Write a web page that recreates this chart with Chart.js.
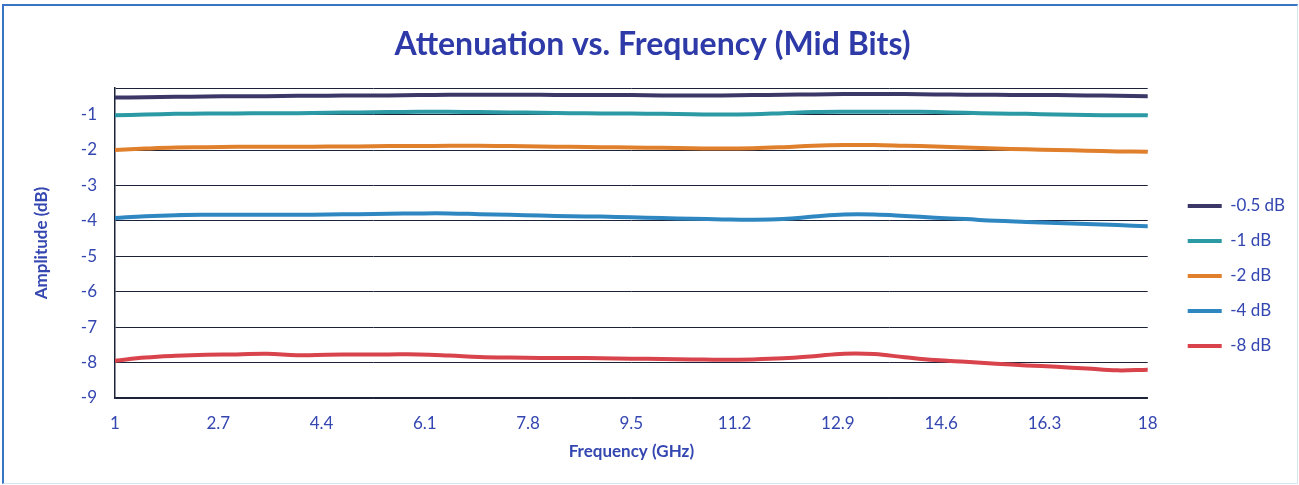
<!DOCTYPE html>
<html>
<head>
<meta charset="utf-8">
<script src="https://cdn.jsdelivr.net/npm/chart.js@4/dist/chart.umd.min.js"></script>
<style>
  html, body { margin: 0; padding: 0; background: #ffffff; }
  #wrap { position: relative; width: 1299px; height: 485px; overflow: hidden; }
  #frame { position: absolute; left: 2px; top: 4px; width: 1296px; height: 480px;
           border-top: 2px solid #3a74c6; border-left: 2px solid #3a74c6;
           border-right: 1px solid #d3e6f4; border-bottom: 1px solid #d3e6f4;
           box-sizing: border-box; pointer-events: none; }
  canvas { position: absolute; left: 0; top: 0; }
</style>
</head>
<body>
<div id="wrap">
  <canvas id="c" width="1299" height="485"></canvas>
  <div id="frame"></div>
</div>
<script>
// ---- data ----
const freqs = [1,1.5,2,2.5,3,3.5,4,4.5,5,5.5,6,6.5,7,7.5,8,8.5,9,9.5,10,10.5,11,11.5,12,12.5,13,13.5,14,14.5,15,15.5,16,16.5,17,17.5,18];
const seriesNames = ['-0.5 dB', '-1 dB', '-2 dB', '-4 dB', '-8 dB'];
const att05 = [-0.52,-0.51,-0.50,-0.49,-0.48,-0.48,-0.47,-0.47,-0.46,-0.46,-0.45,-0.44,-0.44,-0.44,-0.44,-0.45,-0.45,-0.45,-0.46,-0.46,-0.46,-0.45,-0.44,-0.43,-0.42,-0.42,-0.42,-0.43,-0.44,-0.44,-0.45,-0.45,-0.46,-0.47,-0.48];
const att1  = [-1.02,-1.00,-0.98,-0.97,-0.97,-0.96,-0.96,-0.95,-0.94,-0.93,-0.92,-0.92,-0.93,-0.94,-0.95,-0.96,-0.97,-0.97,-0.98,-0.99,-1.00,-0.99,-0.96,-0.93,-0.92,-0.92,-0.92,-0.93,-0.95,-0.97,-0.98,-1.00,-1.01,-1.02,-1.02];
const att2  = [-2.00,-1.96,-1.93,-1.92,-1.91,-1.91,-1.91,-1.90,-1.90,-1.89,-1.89,-1.88,-1.88,-1.89,-1.90,-1.91,-1.92,-1.93,-1.94,-1.95,-1.96,-1.95,-1.92,-1.88,-1.86,-1.86,-1.88,-1.90,-1.93,-1.96,-1.98,-2.00,-2.02,-2.04,-2.05];
const att4  = [-3.92,-3.87,-3.84,-3.83,-3.83,-3.83,-3.83,-3.82,-3.81,-3.80,-3.79,-3.79,-3.81,-3.83,-3.85,-3.87,-3.88,-3.90,-3.92,-3.94,-3.96,-3.97,-3.95,-3.88,-3.82,-3.82,-3.86,-3.91,-3.95,-4.00,-4.03,-4.06,-4.09,-4.12,-4.15];
const att8  = [-7.95,-7.86,-7.81,-7.78,-7.77,-7.75,-7.79,-7.78,-7.77,-7.77,-7.77,-7.80,-7.84,-7.86,-7.87,-7.87,-7.88,-7.89,-7.90,-7.91,-7.92,-7.91,-7.88,-7.82,-7.75,-7.76,-7.85,-7.93,-7.98,-8.03,-8.08,-8.12,-8.17,-8.22,-8.20];
const xTicks = [1, 2.7, 4.4, 6.1, 7.8, 9.5, 11.2, 12.9, 14.6, 16.3, 18];
const yTicks = [-9, -8, -7, -6, -5, -4, -3, -2, -1];
const yTop = -0.25;

const colors = ['#3b3868', '#2b9aa4', '#e07f2c', '#2f87c2', '#d8434c'];
const allSeries = [att05, att1, att2, att4, att8];
const textColor = '#3446b0';
const gridColor = '#1c2238';

const datasets = allSeries.map((vals, i) => ({
  label: seriesNames[i],
  data: freqs.map((f, j) => ({ x: f, y: vals[j] })),
  borderColor: colors[i],
  backgroundColor: colors[i],
  borderWidth: 4,
  pointRadius: 0,
  tension: 0.4,
  borderCapStyle: 'round',
  yAxisID: 'y'
}));

new Chart(document.getElementById('c'), {
  type: 'line',
  data: { datasets },
  options: {
    responsive: false,
    animation: false,
    devicePixelRatio: 1,
    layout: { padding: { top: 10, left: 10, right: 4, bottom: 14 } },
    plugins: {
      title: {
        display: true,
        text: 'Attenuation vs. Frequency (Mid Bits)',
        color: '#2e3aa8',
        font: { family: 'Lato', size: 32, weight: 'bold' },
        padding: { top: 15.8, bottom: 23.8 }
      },
      legend: {
        position: 'right',
        align: 'start',
        title: { display: true, text: '', font: { size: 12 }, padding: { top: 77.5, bottom: 77.5 } },
        labels: {
          boxWidth: 34,
          boxHeight: 0,
          padding: 18,
          color: textColor,
          font: { family: 'Lato', size: 17 },
          generateLabels: chart => Chart.defaults.plugins.legend.labels.generateLabels(chart).map(it => Object.assign(it, { lineWidth: 4, lineCap: 'round' }))
        }
      },
      tooltip: { enabled: false }
    },
    scales: {
      x: {
        type: 'linear',
        min: 1,
        max: 18,
        afterBuildTicks: s => { s.ticks = xTicks.map(v => ({ value: v })); },
        afterFit: s => { s.height = 73; },
        grid: { display: false, drawTicks: false },
        border: { display: true, color: gridColor, width: 1.5 },
        ticks: {
          color: textColor,
          font: { family: 'Lato', size: 17 },
          padding: 15,
          maxRotation: 0,
          autoSkip: false,
          callback: v => String(v)
        },
        title: {
          display: true,
          text: 'Frequency (GHz)',
          color: textColor,
          font: { family: 'Lato', size: 17, weight: 'bold' },
          padding: { top: 4, bottom: 9 }
        }
      },
      y: {
        type: 'linear',
        position: 'left',
        min: -9,
        max: yTop,
        afterBuildTicks: s => { s.ticks = yTicks.concat([yTop]).map(v => ({ value: v })); },
        afterFit: s => { s.width = 115 - 10; },
        grid: { color: gridColor, lineWidth: 1, drawTicks: false },
        border: { display: true, color: gridColor, width: 1.5 },
        ticks: {
          color: textColor,
          font: { family: 'Lato', size: 17 },
          padding: 18,
          autoSkip: false,
          callback: v => Number.isInteger(v) ? String(v) : ''
        },
        title: {
          display: true,
          text: 'Amplitude (dB)',
          color: textColor,
          font: { family: 'Lato', size: 17, weight: 'bold' },
          padding: { top: 21.8, bottom: 0 }
        }
      },
      yR: {
        type: 'linear',
        position: 'right',
        display: true,
        grid: { display: false, drawTicks: false },
        border: { display: false },
        ticks: { display: false },
        afterFit: s => { s.width = 22; }
      }
    }
  }
});
</script>
</body>
</html>
